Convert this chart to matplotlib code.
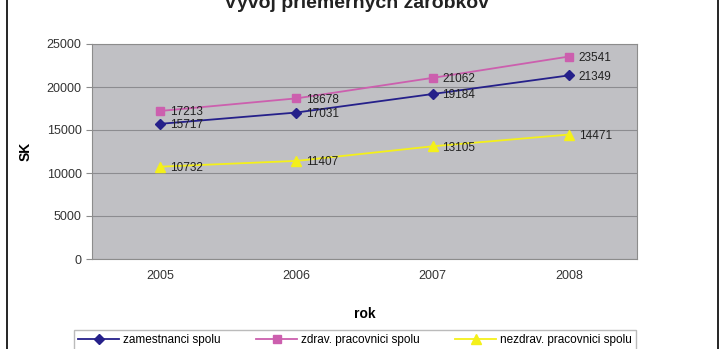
import matplotlib.pyplot as plt
from matplotlib.patches import Rectangle

plt.rcParams['font.family'] = ['Liberation Sans', 'DejaVu Sans']

roky = ['2005', '2006', '2007', '2008']
zamestnanci = [15717, 17031, 19184, 21349]
zdrav = [17213, 18678, 21062, 23541]
nezdrav = [10732, 11407, 13105, 14471]

W, H = 725, 349
fig = plt.figure(figsize=(W / 100, H / 100), dpi=100)
ax = fig.add_axes([92 / W, 1 - 259 / H, (637 - 92) / W, (259 - 44) / H])

ax.set_facecolor('#c0c0c4')
x = [i + 0.5 for i in range(len(roky))]

series = [
    (zamestnanci, 'zamestnanci spolu', '#25208a', 'D', 5),
    (zdrav, 'zdrav. pracovnici spolu', '#cc5fae', 's', 6),
    (nezdrav, 'nezdrav. pracovnici spolu', '#f4f01a', '^', 7),
]
for vals, name, col, mk, ms in series:
    ax.plot(x, vals, color=col, marker=mk, markersize=ms, lw=1.3, label=name)
    for xi, v in zip(x, vals):
        ax.annotate(str(v), (xi, v), xytext=(7, -1), textcoords='offset points',
                    fontsize=8.5, va='center', ha='left', color='#222222')

ax.set_xlim(0, 4)
ax.set_ylim(0, 25000)
ax.set_yticks(range(0, 25001, 5000))
ax.set_xticks(x)
ax.set_xticklabels(roky)
ax.yaxis.grid(True, color='#8c8c90', lw=0.8)
ax.set_axisbelow(True)
for s in ax.spines.values():
    s.set_color('#8c8c8c')
ax.tick_params(labelsize=9, colors='#333333', length=4, color='#8c8c8c')
ax.tick_params(axis='x', length=0, pad=8)

ax.set_xlabel('rok', fontsize=10, fontweight='bold', labelpad=18)
ax.set_ylabel('SK', fontsize=10, fontweight='bold', labelpad=10)

# title is partly cut at the top edge, as in the source picture
fig.text(357 / W, 1 - 4 / H, 'Vývoj priemerných zárobkov', fontsize=14,
         fontweight='bold', ha='center', va='center', color='#222222')

fig.legend(loc='upper center', bbox_to_anchor=(355 / W, 1 - 330 / H), ncol=3,
           fontsize=8.5, frameon=True, fancybox=False, edgecolor='#aaaaaa',
           handlelength=3.5, columnspacing=3, handletextpad=0.3,
           borderpad=0.35, borderaxespad=0)

fig.patches.append(Rectangle((7 / W, -0.1), (718 - 7) / W, 1.2, fill=False,
                             edgecolor='black', lw=1.2, transform=fig.transFigure))

fig.savefig('out.png', dpi=100)
